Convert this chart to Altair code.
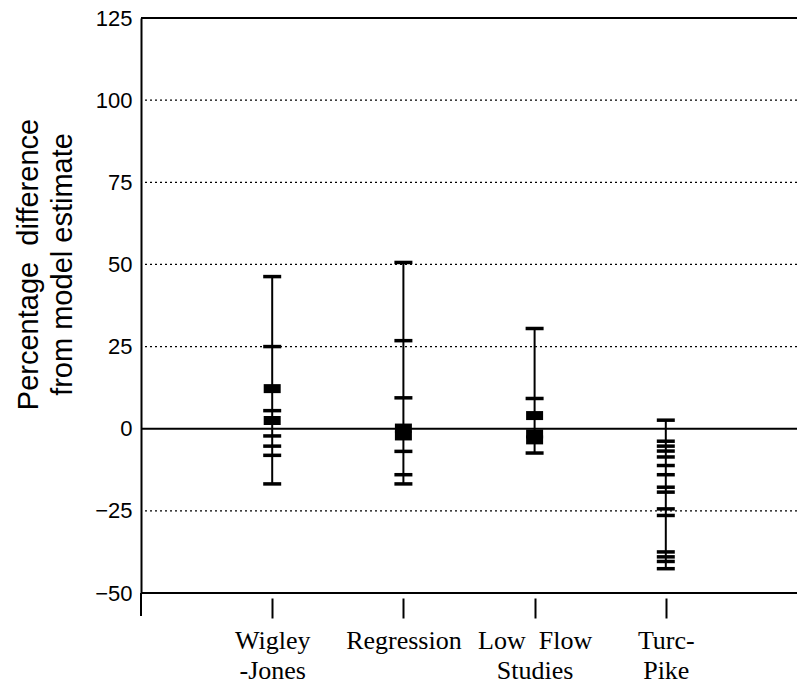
import altair as alt
import pandas as pd

# Methods compared against the model (multi-line axis labels)
methods = ["Wigley\n-Jones", "Regression", "Low\u00a0\u00a0Flow\nStudies", "Turc-\nPike"]

# Percentage differences from the model estimate: single values (thin bars)
# and coincident values (heavy blocks), one pair of lists per method
wigley_ticks = [46.3, 25.0, 5.5, -2.2, -5.3, -8.1, -16.8]
wigley_blocks = [12.2, 2.5]
regression_ticks = [50.6, 26.8, 9.4, -6.9, -14.0, -16.8]
regression_blocks = [0.2, -2.2]
lowflow_ticks = [30.5, 9.2, -7.4]
lowflow_blocks = [4.0, -1.6, -3.4]
turcpike_ticks = [2.6, -3.8, -5.3, -6.8, -8.6, -11.2, -14.0, -17.8, -19.3,
                  -24.4, -26.4, -37.5, -39.0, -40.4, -42.6]
turcpike_blocks = []

# Axis / reference levels
y_ticks = [-50, -25, 0, 25, 50, 75, 100, 125]
dotted_levels = [-25, 25, 50, 75, 100]
solid_levels = [-50, 0, 125]

series = [
    (methods[0], wigley_ticks, wigley_blocks),
    (methods[1], regression_ticks, regression_blocks),
    (methods[2], lowflow_ticks, lowflow_blocks),
    (methods[3], turcpike_ticks, turcpike_blocks),
]

rows, ranges = [], []
for name, ticks, blocks in series:
    rows += [{"method": name, "value": v, "kind": "tick"} for v in ticks]
    rows += [{"method": name, "value": v, "kind": "block"} for v in blocks]
    allv = ticks + blocks
    ranges.append({"method": name, "lo": min(allv), "hi": max(allv)})

points = pd.DataFrame(rows)
spans = pd.DataFrame(ranges)
dotted = pd.DataFrame({"level": dotted_levels})
solid = pd.DataFrame({"level": solid_levels})

y_scale = alt.Scale(domain=[-50, 125], nice=False, zero=False)
x_scale = alt.Scale(type="point", domain=methods, padding=1)

x_axis = alt.Axis(
    title=None, domain=False, offset=5, tickSize=20, tickWidth=2,
    tickColor="black", labelAngle=0, labelFont="Liberation Serif",
    labelFontSize=26, labelColor="black", labelPadding=9,
    labelLineHeight=30, labelExpr="split(datum.label, '\\n')", grid=False,
)
y_axis = alt.Axis(
    values=y_ticks, grid=False, domain=True, domainWidth=2, domainColor="black",
    ticks=False, labelPadding=9, labelFont="Liberation Sans",
    labelFontSize=22, labelColor="black",
    title=["Percentage\u00a0\u00a0difference", "from model estimate"],
    titleFont="Liberation Sans", titleFontSize=29, titleFontWeight="normal",
    titleColor="black", titleAngle=270, titleAlign="center",
    titleBaseline="alphabetic", titleLineHeight=34, titleX=-104, titleY=246,
)

base_y = alt.Y("level:Q", scale=y_scale, axis=y_axis)

grid_dotted = alt.Chart(dotted).mark_rule(
    color="black", strokeWidth=1.2, strokeDash=[2, 3]
).encode(y=base_y)

grid_solid = alt.Chart(solid).mark_rule(
    color="black", strokeWidth=2
).encode(y=alt.Y("level:Q", scale=y_scale))

# short extension of the vertical axis below the lowest level
axis_stub = alt.Chart(solid).mark_rule(color="black", strokeWidth=2).encode(
    x=alt.value(0), y=alt.datum(-50, scale=y_scale), y2=alt.datum(-57)
)

whiskers = alt.Chart(spans).mark_rule(color="black", strokeWidth=2).encode(
    x=alt.X("method:N", scale=x_scale, axis=x_axis, sort=methods),
    y=alt.Y("lo:Q", scale=y_scale),
    y2="hi:Q",
)

thin = alt.Chart(points).transform_filter(alt.datum.kind == "tick").mark_tick(
    color="black", size=18, thickness=3.5, opacity=1
).encode(
    x=alt.X("method:N", scale=x_scale, sort=methods),
    y=alt.Y("value:Q", scale=y_scale),
)

blocks = alt.Chart(points).transform_filter(alt.datum.kind == "block").mark_tick(
    color="black", size=17, thickness=9, opacity=1
).encode(
    x=alt.X("method:N", scale=x_scale, sort=methods),
    y=alt.Y("value:Q", scale=y_scale),
)

chart = alt.layer(
    grid_dotted, grid_solid, axis_stub, whiskers, thin, blocks
).properties(
    width=656, height=575,
    autosize=alt.AutoSizeParams(type="none"),
    padding={"left": 141, "top": 18, "right": 0, "bottom": 97},
    background="white",
).configure_view(stroke=None)

chart.save("out.html", embed_options={"renderer": "svg", "actions": False})
